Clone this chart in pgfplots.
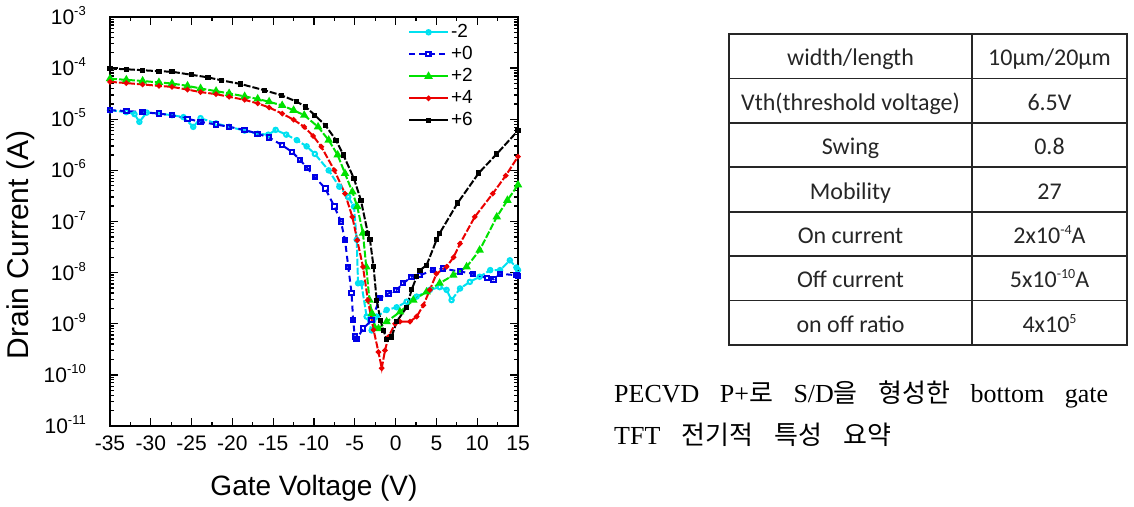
\documentclass[border=0pt]{standalone}
\usepackage{fontspec}
\setmainfont{Liberation Sans}
\newfontfamily\cjk{Noto Sans CJK KR}
\newfontfamily\tabfont{Carlito}
\newfontfamily\capfont{Liberation Serif}
\usepackage{pgfplots}
\pgfplotsset{compat=1.18}
\definecolor{ccyan}{RGB}{0,225,240}
\definecolor{cblue}{RGB}{0,0,230}
\definecolor{cgreen}{RGB}{0,225,0}
\definecolor{cred}{RGB}{235,0,0}
\newcommand\ee[1]{10\raisebox{9pt}{\fontsize{13}{13}\selectfont #1}}
\newcommand\sups[1]{\raisebox{9pt}{\fontsize{14}{14}\selectfont #1}}
\begin{document}
\begin{tikzpicture}[x=1pt,y=1pt]
\useasboundingbox (0,0) rectangle (1134,506);
\begin{axis}[
 at={(110pt,80pt)}, anchor=south west, scale only axis,
 width=408pt, height=409pt,
 xmin=-35, xmax=15, ymin=1e-11, ymax=1e-3, ymode=log,
 xtick={-35,-30,...,15},
 xticklabels={-35,-30,-25,-20,-15,-10,-5,0,5,10,15},
 minor x tick num=1,
 ytickten={-11,-10,...,-3},
 yticklabels={\ee{-11},\ee{-10},\ee{-9},\ee{-8},\ee{-7},\ee{-6},\ee{-5},\ee{-4},\ee{-3}},
 tick label style={font=\fontsize{21}{24}\selectfont},
 xticklabel style={anchor=north, inner sep=0pt, yshift=-10pt},
 yticklabel style={anchor=base east, inner sep=0pt, xshift=-24pt, yshift=-7.5pt},
 major tick length=8pt, minor tick length=4pt,
 every tick/.style={black, line width=1.3pt},
 axis line style={line width=2pt},
 xlabel={Gate Voltage (V)}, ylabel={Drain Current (A)},
 xlabel style={font=\fontsize{28}{32}\selectfont, at={(axis description cs:0.5,-0.152)}, anchor=center},
 ylabel style={font=\fontsize{30}{34}\selectfont, at={(axis description cs:-0.22,0.443)}, anchor=center},
 legend style={draw=none, fill=none, at={(0.730,0.990)}, anchor=north west,
   inner sep=0pt, row sep=0pt, font=\fontsize{19}{22}\selectfont,
   nodes={inner sep=2pt, text height=14pt, text depth=4pt},
   /tikz/every even column/.append style={column sep=3pt}},
 legend cell align=left,
 legend image code/.code={\draw[mark repeat=2,mark phase=2,#1] plot coordinates {(0pt,0pt) (19.5pt,0pt) (39pt,0pt)};},
 every axis plot/.append style={line width=2pt, mark options={solid}},
]
% -2
\addplot[ccyan, dash pattern=on 7pt off 2pt, mark=o, mark size=2.2pt, legend image post style={solid}] table {
-35 1.5e-5
-33 1.38e-5
-32 1.26e-5
-31.4 8.9e-6
-30.5 1.35e-5
-29 1.29e-5
-27.4 1.2e-5
-26 1.1e-5
-24.8 7.1e-6
-23.9 1.05e-5
-22 8.3e-6
-20.4 7.1e-6
-18.5 6.0e-6
-16.9 5.2e-6
-15.6 5.0e-6
-14.7 6.2e-6
-13.4 5.0e-6
-12.1 3.9e-6
-10.9 2.95e-6
-9.9 2.1e-6
-8.2 1.0e-6
-6.9 4.8e-7
-5.8 3.0e-7
-5.1 1.95e-7
-4.77 4.4e-8
-4.6 6.2e-9
-4.2 6.2e-9
-3.55 1.38e-9
-2.94 7.4e-10
-2.32 1.38e-9
-1.1 1.86e-9
0.13 2.1e-9
1.35 2.7e-9
2.58 3.4e-9
4.2 4.6e-9
5.4 5.2e-9
6.25 4.6e-9
6.86 2.9e-9
7.9 4.9e-9
9.1 6.6e-9
10.3 8.3e-9
11.6 1.12e-8
12.8 1.12e-8
14.0 1.74e-8
14.8 1.26e-8
15 1.12e-8
};
\addlegendentry{-2}
% +0
\addplot[cblue, dash pattern=on 6pt off 4pt, mark=square, mark size=2.2pt] table {
-35 1.5e-5
-33 1.45e-5
-31 1.38e-5
-29 1.29e-5
-27.4 1.2e-5
-25.5 1.02e-5
-23.9 8.9e-6
-22 7.9e-6
-20.4 7.1e-6
-18.5 6.2e-6
-16.9 5.2e-6
-15.5 4.4e-6
-13.9 3.1e-6
-12.7 2.3e-6
-11.7 1.6e-6
-10.8 1.1e-6
-9.9 7.4e-7
-8.6 4.4e-7
-7.5 1.95e-7
-6.7 1.0e-7
-6.2 4.3e-8
-5.8 1.3e-8
-5.4 4.0e-9
-5.2 1.17e-9
-5.0 5.6e-10
-4.77 5.0e-10
-3.97 8.1e-10
-2.94 1.17e-9
-1.91 3.2e-9
-0.89 3.9e-9
0.13 4.6e-9
0.94 6.2e-9
1.96 8.3e-9
3.0 8.9e-9
4.6 1.12e-8
5.8 1.2e-8
7.9 1.05e-8
9.5 9.5e-9
11.2 7.8e-9
12.0 7.4e-9
12.8 9.5e-9
14.8 8.9e-9
15 8.7e-9
};
\addlegendentry{+0}
% +2
\addplot[cgreen, dash pattern=on 7pt off 2pt, mark=triangle*, mark size=3pt, legend image post style={solid}] table {
-35 6.2e-5
-33 5.9e-5
-31 5.6e-5
-29 5.25e-5
-27.4 5.0e-5
-25.5 4.5e-5
-23.9 4.0e-5
-22 3.55e-5
-20.4 3.2e-5
-18.5 2.8e-5
-16.9 2.5e-5
-15.5 2.2e-5
-13.9 1.86e-5
-12.5 1.5e-5
-11.2 1.2e-5
-9.5 7.1e-6
-8.2 3.9e-6
-7.1 2.0e-6
-6.2 8.7e-7
-5.3 3.8e-7
-4.7 1.95e-7
-4.0 5.9e-8
-3.6 1.3e-8
-3.2 2.9e-9
-2.9 1.6e-9
-2.5 8.1e-10
-2.1 8.0e-10
-1.1 1.1e-9
0.54 1.7e-9
2.17 2.9e-9
3.8 4.2e-9
5.4 6.2e-9
7.07 8.9e-9
8.7 1.3e-8
10.3 2.75e-8
12.4 1.23e-7
13.7 2.6e-7
15 5.2e-7
};
\addlegendentry{+2}
% +4
\addplot[cred, dash pattern=on 7pt off 2pt, mark=*, mark size=1.6pt, legend image post style={solid}] table {
-35 5.4e-5
-33 5.1e-5
-31 4.8e-5
-29 4.5e-5
-27.4 4.3e-5
-25.5 3.8e-5
-23.9 3.4e-5
-22 3.1e-5
-20.4 2.75e-5
-18.5 2.4e-5
-16.9 2.04e-5
-15.5 1.7e-5
-13.9 1.29e-5
-12.5 9.8e-6
-11.2 7.1e-6
-10.1 4.7e-6
-9.1 2.9e-6
-7.5 1.0e-6
-6.2 3.5e-7
-5.3 1.23e-7
-4.7 4.3e-8
-4.0 1.3e-8
-3.4 2.9e-9
-2.7 7.6e-10
-2.1 2.8e-10
-1.7 1.35e-10
-1.3 3.0e-10
-0.89 5.5e-10
-0.07 1.0e-9
0.54 1.1e-9
1.76 1.1e-9
2.58 1.38e-9
3.4 2.3e-9
4.2 4.6e-9
5.0 9.5e-9
6.25 1.3e-8
7.1 2.0e-8
7.9 3.7e-8
9.7 1.23e-7
11.9 3.5e-7
13.5 7.9e-7
15 1.86e-6
};
\addlegendentry{+4}
% +6
\addplot[black, dash pattern=on 7pt off 2pt, mark=square*, mark size=1.6pt, legend image post style={solid}] table {
-35 9.8e-5
-33 9.5e-5
-31 9.1e-5
-29 8.7e-5
-27.4 8.5e-5
-25 7.4e-5
-23 6.6e-5
-21.3 5.75e-5
-19 4.9e-5
-16.1 3.7e-5
-14 2.95e-5
-12.1 2.2e-5
-11 1.74e-5
-9.9 1.2e-5
-8.6 7.6e-6
-7.3 3.9e-6
-6.4 2.0e-6
-5.1 6.9e-7
-4.25 2.6e-7
-3.4 5.9e-8
-3.14 4.4e-8
-2.7 1.3e-8
-2.32 2.9e-9
-1.85 1.17e-9
-1.5 7.4e-10
-1.09 5.0e-10
-0.5 5.5e-10
0.13 1.1e-9
1.35 2.1e-9
1.96 4.6e-9
2.58 8.3e-9
3.0 1.12e-8
3.8 1.4e-8
5.03 4.4e-8
5.4 5.9e-8
7.6 2.3e-7
10.2 8.9e-7
12.4 2.1e-6
15 6.0e-6
};
\addlegendentry{+6}
\end{axis}
% summary table
\begin{scope}[line width=1.8pt]
\draw[black!85] (729,472) rectangle (1127,161);
\foreach \k in {1,...,6} {\draw[black!85] (729,{472-44.43*\k}) -- (1127,{472-44.43*\k});}
\draw[black!85] (972,472) -- (972,161);
\end{scope}
\begin{scope}[every node/.style={anchor=base, inner sep=0pt, text=black!85, font=\tabfont\fontsize{24}{28}\selectfont}]
\node at (850.5,{472-44.43*0.5-9.5}) {width/length};
\node at (850.5,{472-44.43*1.5-9.5}) {Vth(threshold voltage)};
\node at (850.5,{472-44.43*2.5-9.5}) {Swing};
\node at (850.5,{472-44.43*3.5-9.5}) {Mobility};
\node at (850.5,{472-44.43*4.5-9.5}) {On current};
\node at (850.5,{472-44.43*5.5-9.5}) {Off current};
\node at (850.5,{472-44.43*6.5-9.5}) {on off ratio};
\node at (1049.5,{472-44.43*0.5-9.5}) {10µm/20µm};
\node at (1049.5,{472-44.43*1.5-9.5}) {6.5V};
\node at (1049.5,{472-44.43*2.5-9.5}) {0.8};
\node at (1049.5,{472-44.43*3.5-9.5}) {27};
\node at (1049.5,{472-44.43*4.5-9.5}) {2x10\sups{-4}A};
\node at (1049.5,{472-44.43*5.5-9.5}) {5x10\sups{-10}A};
\node at (1049.5,{472-44.43*6.5-9.5}) {4x10\sups{5}};
\end{scope}
% caption
\begin{scope}[every node/.style={anchor=base west, inner sep=0pt, font=\capfont\fontsize{26}{30}\selectfont}]
\node at (614,103) {\makebox[494pt][s]{PECVD P+{\cjk 로} S/D{\cjk 을} {\cjk 형성한} bottom gate}};
\node at (614,62) {\makebox[277pt][s]{TFT {\cjk 전기적} {\cjk 특성} {\cjk 요약}}};
\end{scope}
\end{tikzpicture}
\end{document}
